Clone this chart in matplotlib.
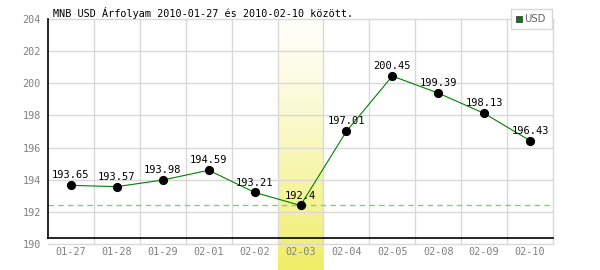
import numpy as np
import matplotlib
matplotlib.use("Agg")
import matplotlib.pyplot as plt
from matplotlib.patches import Rectangle

dates = ["01-27", "01-28", "01-29", "02-01", "02-02", "02-03",
         "02-04", "02-05", "02-08", "02-09", "02-10"]
rates = [193.65, 193.57, 193.98, 194.59, 193.21, 192.4,
         197.01, 200.45, 199.39, 198.13, 196.43]
value_labels = ["193.65", "193.57", "193.98", "194.59", "193.21", "192.4",
                "197.01", "200.45", "199.39", "198.13", "196.43"]
y_ticks = [190, 192, 194, 196, 198, 200, 202, 204]
highlight = "02-03"
title = "MNB USD Árfolyam 2010-01-27 és 2010-02-10 között."

plt.rcParams['font.family'] = ['DejaVu Sans Mono']
grid_c = "#d9d9d9"
tick_c = "#808080"

fig = plt.figure(figsize=(6, 2.7), dpi=100)
ax = fig.add_axes([48/600, 26/270, 505/600, 225/270])
ax.set_xlim(-0.5, len(dates) - 0.5)
ax.set_ylim(190, 204)
px = 14 / 225.0  # data units per pixel (y)

# highlighted day band with gradient, running below the axes
hi = dates.index(highlight)
grad = np.linspace(0, 1, 256).reshape(-1, 1) ** 1.3
top = np.array([1.0, 1.0, 0.98])
bot = np.array([0.94, 0.93, 0.40])
img = top + (bot - top) * grad[..., None]
ax.imshow(img, extent=[hi - 0.5, hi + 0.5, 190 - 26 * px, 204], aspect='auto',
          origin='upper', clip_on=False, zorder=0.5)

# grid
for y in y_ticks[1:-1]:
    ax.axhline(y, color=grid_c, lw=1, zorder=1)
for i in range(len(dates) - 1):
    ax.axvline(i + 0.5, color=grid_c, lw=1, zorder=1)

for s in ["top", "right", "bottom"]:
    ax.spines[s].set_color(grid_c)
    ax.spines[s].set_linewidth(1)
ax.spines["left"].set_visible(False)

# black axis lines
y_axis = 190 + 6 * px
ax.plot([-0.5, -0.5], [y_axis, 204], color="black", lw=1.2, clip_on=False, zorder=3)
ax.plot([-0.5, len(dates) - 0.5], [y_axis, y_axis], color="black", lw=1.2,
        clip_on=False, zorder=3)

# minimum reference line
ax.axhline(min(rates), color="#7fd07f", lw=1, ls=(0, (4, 3)), zorder=2)

x = np.arange(len(dates))
ax.plot(x, rates, color="#008000", lw=0.8, zorder=4)
ax.plot(x, rates, "o", color="black", ms=5.6, zorder=5)
for xi, v, lab in zip(x, rates, value_labels):
    ax.annotate(lab, (xi, v), xytext=(0, 3.5), textcoords="offset points",
                ha="center", va="bottom", fontsize=7.5, color="black", zorder=6)

ax.set_xticks(x)
ax.set_xticklabels(dates)
ax.set_yticks(y_ticks)
ax.tick_params(axis="both", length=0, colors=tick_c, labelsize=7.3)
ax.tick_params(axis="x", pad=2)
ax.tick_params(axis="y", pad=5)

fig.text(53/600, 1 - 13/270, title, fontsize=7.3, color="black", va="center", ha="left")

# legend box
fig.patches.append(Rectangle((511/600, 1 - 29/270), 41/600, 20/270,
                             transform=fig.transFigure, facecolor="white",
                             edgecolor=grid_c, lw=1))
fig.patches.append(Rectangle((515.5/600, 1 - 22/270), 6/600, 6/270,
                             transform=fig.transFigure, facecolor="#008000",
                             edgecolor="#404040", lw=0.6))
fig.text(524/600, 1 - 19/270, "USD", fontsize=7.2, color="#606060", va="center",
         ha="left", family=["DejaVu Sans"])

fig.savefig("out.png", dpi=100)
